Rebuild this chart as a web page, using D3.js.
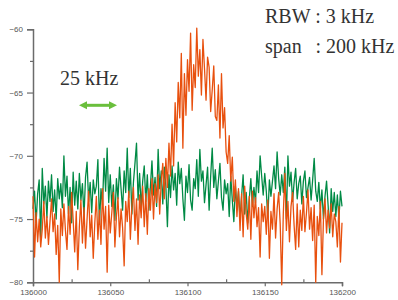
<!DOCTYPE html>
<html><head><meta charset="utf-8">
<script src="https://cdn.jsdelivr.net/npm/d3@7"></script>
<style>
html,body{margin:0;padding:0;background:#fff;}
svg{display:block;}
</style></head>
<body>
<svg id="chart" width="398" height="300"></svg>
<script>
const freqStart = 136000;
const freqStep = 1;
const xTicks = [136000, 136050, 136100, 136150, 136200];
const xMinorTicks = [136025, 136075, 136125, 136175];
const yTicks = [-60, -65, -70, -75, -80];
const yMinorTicks = [-62.5, -67.5, -72.5, -77.5];

const orangeValues = [
 -73.2,-78.0,-74.5,-76.8,-75.0,-77.2,-75.8,-73.6,-76.5,-74.8,
 -77.0,-75.2,-73.4,-76.0,-74.6,-77.8,-75.5,-80.0,-74.2,-76.3,
 -73.8,-75.9,-77.4,-74.0,-76.2,-72.9,-75.1,-77.6,-74.4,-79.0,
 -75.6,-73.5,-76.9,-74.1,-77.3,-75.0,-72.8,-76.4,-74.7,-78.1,
 -75.3,-73.2,-76.6,-74.3,-77.0,-72.6,-75.8,-74.0,-79.2,-73.9,
 -76.1,-74.5,-72.9,-77.2,-74.8,-73.3,-76.4,-74.2,-75.7,-78.7,
 -73.6,-75.2,-72.8,-76.6,-74.0,-72.5,-75.9,-73.4,-77.0,-73.1,
 -74.9,-72.4,-75.6,-73.0,-76.2,-72.6,-74.3,-71.8,-75.0,-72.2,
 -73.7,-71.5,-74.6,-72.0,-70.6,-73.4,-70.2,-72.5,-69.0,-71.6,
 -67.5,-70.8,-65.8,-68.9,-64.2,-67.0,-61.9,-69.4,-63.5,-66.8,
 -62.4,-64.9,-60.3,-66.4,-62.8,-64.6,-59.9,-63.7,-61.6,-65.2,
 -60.8,-63.1,-65.6,-62.2,-63.0,-66.5,-64.8,-62.9,-66.9,-67.2,
 -64.4,-68.6,-63.5,-67.8,-66.2,-69.7,-70.6,-68.4,-72.0,-70.1,
 -73.6,-71.9,-74.8,-72.6,-75.9,-73.0,-76.4,-72.4,-74.6,-75.8,
 -73.2,-76.6,-72.8,-74.9,-73.3,-75.6,-74.1,-78.0,-73.8,-75.2,
 -74.0,-76.2,-73.5,-78.1,-74.4,-75.8,-73.0,-76.5,-74.2,-72.9,
 -75.4,-80.2,-74.6,-71.4,-75.9,-73.6,-76.8,-74.0,-72.9,-75.5,
 -77.4,-73.8,-77.2,-74.3,-75.9,-73.2,-76.0,-74.5,-72.7,-75.8,
 -74.1,-76.7,-73.9,-80.0,-74.8,-76.3,-73.6,-79.4,-75.0,-73.4,
 -76.1,-74.3,-75.7,-73.8,-76.4,-74.6,-75.2,-77.2,-74.0,-78.4,
 -75.3
];

const greenValues = [
 -74.2,-72.8,-75.3,-73.0,-71.9,-76.6,-71.0,-73.8,-72.4,-74.9,
 -72.0,-73.6,-71.5,-74.4,-72.7,-75.0,-71.8,-73.4,-72.2,-74.1,
 -70.0,-73.2,-71.6,-74.6,-72.5,-75.3,-71.3,-73.9,-72.0,-74.2,
 -71.4,-73.5,-72.2,-74.8,-71.7,-70.5,-73.6,-72.1,-74.5,-71.9,
 -73.0,-72.4,-70.3,-75.4,-72.6,-73.9,-70.2,-72.8,-69.4,-73.7,
 -71.5,-74.0,-72.3,-75.1,-71.8,-73.4,-70.9,-72.6,-74.3,-71.2,
 -72.9,-69.4,-73.3,-71.0,-74.6,-72.1,-70.6,-69.0,-73.5,-71.4,
 -74.1,-72.0,-70.8,-73.6,-71.5,-74.3,-72.4,-70.4,-73.1,-71.7,
 -74.0,-69.5,-72.6,-71.2,-73.8,-70.9,-72.4,-75.6,-71.5,-73.3,
 -70.8,-72.7,-71.4,-73.9,-70.5,-72.2,-71.0,-73.4,-75.1,-71.6,
 -72.9,-70.7,-73.5,-74.3,-71.8,-72.6,-70.3,-73.2,-69.5,-72.0,
 -71.2,-73.7,-72.3,-70.9,-74.3,-71.6,-69.4,-72.5,-71.1,-73.4,
 -72.0,-70.6,-73.3,-74.3,-71.9,-73.0,-72.2,-74.8,-71.6,-73.5,
 -75.2,-72.4,-74.1,-72.8,-75.0,-73.2,-71.5,-74.6,-72.9,-75.3,
 -73.4,-71.8,-74.0,-72.5,-73.7,-71.2,-72.9,-70.0,-71.6,-73.1,
 -71.4,-72.8,-74.9,-71.9,-73.2,-72.0,-70.8,-72.6,-69.7,-71.8,
 -73.1,-71.5,-72.9,-70.9,-75.0,-70.0,-72.4,-71.3,-73.6,-72.1,
 -71.0,-73.4,-72.2,-71.6,-73.8,-72.0,-71.2,-73.3,-72.5,-71.7,
 -73.5,-71.9,-70.2,-72.8,-73.6,-72.1,-74.2,-72.7,-75.0,-73.2,
 -72.0,-73.9,-76.1,-72.6,-74.4,-72.9,-74.8,-73.1,-75.0,-72.8,
 -74.0
];

const annotations = {rbw: "RBW : 3 kHz", spanLabel: "span", spanValue: ": 200 kHz", arrowLabel: "25 kHz"};

const svg = d3.select("#chart");
const mLeft = 33, mRight = 342, mTop = 29.3, mBottom = 282.3;

const x = d3.scaleLinear().domain([136000, 136200]).range([mLeft, mRight]);
const y = d3.scaleLinear().domain([-80, -60]).range([mBottom, mTop]);

const axisColor = "#6b6b6b";
const labelColor = "#555";

// Y axis
const yAxis = svg.append("g").attr("transform", `translate(${mLeft},0)`)
  .call(d3.axisLeft(y).tickValues(yTicks).tickSize(6).tickPadding(4).tickFormat(d3.format("d")));
yAxis.selectAll(".tick line").attr("stroke", axisColor).attr("stroke-width", 1.2);
const yMinor = svg.append("g").attr("transform", `translate(${mLeft},0)`)
  .call(d3.axisLeft(y).tickValues(yMinorTicks).tickSize(3).tickFormat(""));
yMinor.select(".domain").remove();
yMinor.selectAll(".tick line").attr("stroke", axisColor).attr("stroke-width", 1.2);

// X axis
const xAxis = svg.append("g").attr("transform", `translate(0,${mBottom})`)
  .call(d3.axisBottom(x).tickValues(xTicks).tickSize(4).tickPadding(3).tickFormat(d3.format("d")));
xAxis.selectAll(".tick line").attr("stroke", axisColor).attr("stroke-width", 1.2);
const xMinor = svg.append("g").attr("transform", `translate(0,${mBottom})`)
  .call(d3.axisTop(x).tickValues(xMinorTicks).tickSize(3).tickFormat(""));
xMinor.select(".domain").remove();
xMinor.selectAll(".tick line").attr("stroke", axisColor).attr("stroke-width", 1.2);

svg.selectAll(".domain").attr("stroke", axisColor).attr("stroke-width", 1.5);
svg.selectAll(".tick text").attr("fill", labelColor)
  .style("font-family", "Liberation Sans, Arial, sans-serif").style("font-size", "8px");

// lines
const line = d3.line()
  .x((d, i) => x(freqStart + i * freqStep))
  .y(d => y(d));

svg.append("path").datum(greenValues)
  .attr("fill", "none").attr("stroke", "#008a45").attr("stroke-width", 1.3)
  .attr("stroke-linejoin", "round").attr("d", line);
svg.append("path").datum(orangeValues)
  .attr("fill", "none").attr("stroke", "#e8500e").attr("stroke-width", 1.3)
  .attr("stroke-linejoin", "round").attr("d", line);

// annotations
const serif = "Liberation Serif, Times New Roman, serif";
svg.append("text").attr("x", 265).attr("y", 23).text(annotations.rbw)
  .style("font-family", serif).style("font-size", "20px").attr("fill", "#333");
svg.append("text").attr("x", 265).attr("y", 53).text(annotations.spanLabel)
  .style("font-family", serif).style("font-size", "20px").attr("fill", "#333");
svg.append("text").attr("x", 315.5).attr("y", 53).text(annotations.spanValue)
  .style("font-family", serif).style("font-size", "20px").attr("fill", "#333");
svg.append("text").attr("x", 60).attr("y", 85).text(annotations.arrowLabel)
  .style("font-family", serif).style("font-size", "20px").attr("fill", "#333");

// double arrow (25 kHz span)
const arrowY = 105.3;
const ax0 = 79, ax1 = 117;
const arrowColor = "#6abf3c";
svg.append("line").attr("x1", ax0 + 6).attr("x2", ax1 - 6).attr("y1", arrowY).attr("y2", arrowY)
  .attr("stroke", arrowColor).attr("stroke-width", 3);
svg.append("path").attr("d", `M${ax0},${arrowY} L${ax0 + 8},${arrowY - 4} L${ax0 + 8},${arrowY + 4} Z`).attr("fill", arrowColor);
svg.append("path").attr("d", `M${ax1},${arrowY} L${ax1 - 8},${arrowY - 4} L${ax1 - 8},${arrowY + 4} Z`).attr("fill", arrowColor);
</script>
</body></html>
